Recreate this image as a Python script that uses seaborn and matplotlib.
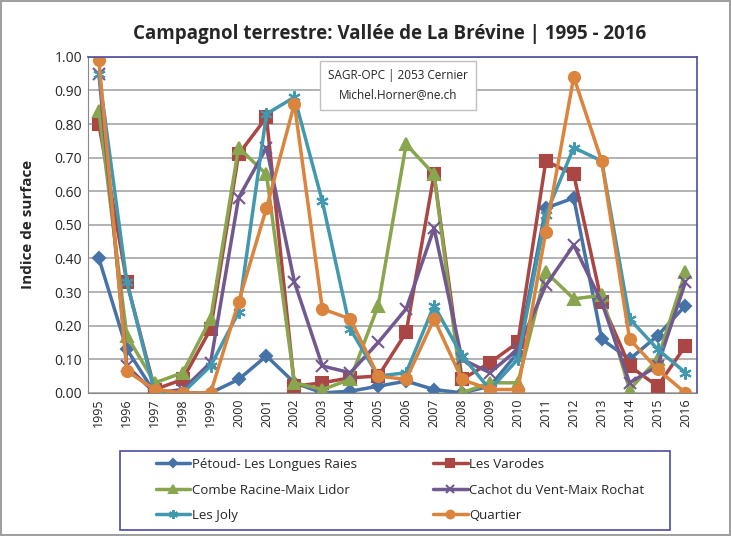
import matplotlib

matplotlib.use('agg')
import matplotlib.pyplot as plt
import pandas as pd
import seaborn as sns
from matplotlib.patches import Rectangle

years = list(range(1995, 2017))

petoud = [0.40, 0.13, 0.00, 0.00, 0.00, 0.04, 0.11, 0.03, 0.00, 0.005, 0.02,
          0.035, 0.01, 0.00, 0.02, 0.12, 0.55, 0.58, 0.16, 0.10, 0.17, 0.26]
varodes = [0.80, 0.33, 0.01, 0.04, 0.19, 0.71, 0.82, 0.02, 0.03, 0.045, 0.05,
           0.18, 0.65, 0.04, 0.09, 0.15, 0.69, 0.65, 0.27, 0.08, 0.02, 0.14]
combe = [0.84, 0.17, 0.03, 0.06, 0.22, 0.73, 0.65, 0.03, 0.01, 0.04, 0.26,
         0.74, 0.65, 0.00, 0.03, 0.03, 0.36, 0.28, 0.29, 0.01, 0.10, 0.36]
cachot = [0.95, 0.08, 0.00, 0.01, 0.09, 0.58, 0.73, 0.33, 0.08, 0.06, 0.15,
          0.25, 0.49, 0.10, 0.06, 0.13, 0.32, 0.44, 0.27, 0.03, 0.08, 0.33]
joly = [0.95, 0.33, 0.00, 0.00, 0.08, 0.24, 0.83, 0.88, 0.57, 0.19, 0.05,
        0.06, 0.26, 0.11, 0.01, 0.10, 0.53, 0.73, 0.69, 0.22, 0.13, 0.06]
quartier = [0.99, 0.065, 0.01, 0.00, 0.00, 0.27, 0.55, 0.86, 0.25, 0.22, 0.05,
            0.04, 0.22, 0.04, 0.01, 0.01, 0.48, 0.94, 0.69, 0.16, 0.07, 0.00]

series_names = ['Pétoud- Les Longues Raies', 'Les Varodes', 'Combe Racine-Maix Lidor',
                'Cachot du Vent-Maix Rochat', 'Les Joly', 'Quartier']
series_values = [petoud, varodes, combe, cachot, joly, quartier]
colors = ['#4572A7', '#AA4643', '#89A54E', '#71588F', '#4198AF', '#DB843D']
markers = ['D', 's', '^', 'x', (6, 2, 0), 'o']
marker_sizes = [6, 8, 8, 8, 9, 8]

sns.set_style('white')
plt.rcParams['font.family'] = ['Open Sans', 'DejaVu Sans']

W, H = 731, 536
fig = plt.figure(figsize=(W / 100, H / 100), dpi=100)
fig.patch.set_edgecolor('#A0A0A0')
fig.patch.set_linewidth(1.5)
ax = fig.add_axes([0.120, 0.267, 0.833, 0.627])

handles = []
for name, vals, col, mk, ms in zip(series_names, series_values, colors, markers, marker_sizes):
    df = pd.DataFrame({'year': years, 'value': vals})
    sns.lineplot(data=df, x='year', y='value', ax=ax, color=col, linewidth=2.5,
                 marker=mk, markersize=ms, markeredgecolor=col, markeredgewidth=1.5,
                 label=name, legend=False)
    handles.append(ax.lines[-1])

ax.set_xlim(1994.6, 2016.4)
ax.set_ylim(0, 1.0)
ax.set_yticks([i / 10 for i in range(11)])
ax.set_yticklabels([f'{i / 10:.2f}' for i in range(11)], fontsize=10)
ax.set_xticks(years)
ax.set_xticklabels([str(y) for y in years], rotation=90, fontsize=9)
ax.yaxis.grid(True, color='#A6A6A6', linewidth=1.2)
ax.set_axisbelow(True)
for side in ['top', 'right']:
    ax.spines[side].set_color('#4B4BA0')
    ax.spines[side].set_linewidth(1.2)
for side in ['left', 'bottom']:
    ax.spines[side].set_color('#888888')
ax.tick_params(axis='both', length=0, pad=4)
ax.set_xlabel('')
ax.set_ylabel('Indice de surface', fontsize=11, fontweight='bold', labelpad=14)

fig.text(0.533, 0.937, 'Campagnol terrestre: Vallée de La Brévine | 1995 - 2016',
         ha='center', va='center', fontsize=13.5, fontweight='bold')

ax.text(0.51, 0.915, 'SAGR-OPC | 2053 Cernier\nMichel.Horner@ne.ch', transform=ax.transAxes,
        ha='center', va='center', fontsize=8.5, linespacing=1.6,
        bbox=dict(boxstyle='square,pad=0.7', facecolor='white', edgecolor='#BFBFBF'))

# legend frame drawn separately so the columns can sit closer than mode='expand'
fig.patches.append(Rectangle((120 / W, 1 - 530 / H), 550 / W, 79 / H, transform=fig.transFigure,
                             facecolor='white', edgecolor='#4B4BA0', linewidth=1.2, zorder=0))

order = [0, 2, 4, 1, 3, 5]
leg = fig.legend([handles[i] for i in order], [series_names[i] for i in order],
                 loc='center', bbox_to_anchor=(400 / W, 1 - 490 / H),
                 ncol=2, fontsize=9.5, frameon=False, markerscale=0.7,
                 handlelength=2.6, handletextpad=0.1, labelspacing=0.95,
                 columnspacing=5.8)

fig.savefig('out.png', dpi=100)
